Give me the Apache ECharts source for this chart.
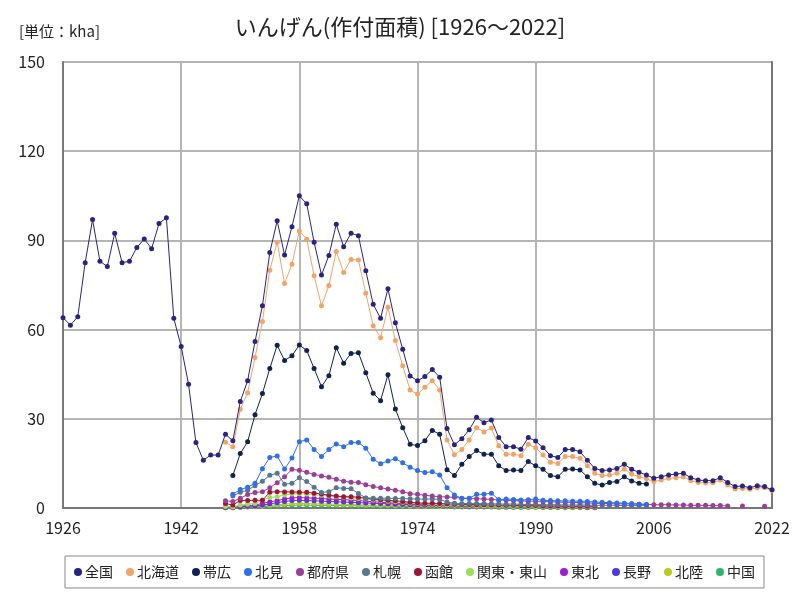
<!DOCTYPE html>
<html>
<head>
<meta charset="utf-8">
<script src="https://cdn.jsdelivr.net/npm/echarts@6/dist/echarts.min.js"></script>
<style>
html,body{margin:0;padding:0;background:#fff;}
#main{width:800px;height:600px;}
</style>
</head>
<body>
<div id="main"></div>
<script>
// 年 (x軸)
var years = [];
for (var y = 1926; y <= 2022; y++) years.push(String(y));

// 全国 1926-2022
var zenkoku = [
  64, 61.5, 64.3, 82.5, 97, 83, 81.2, 92.4, 82.5, 83,
  87.6, 90.5, 87.2, 95.7, 97.6, 63.8, 54.3, 41.6, 22, 16.1,
  17.8, 17.8, 24.8, 22.6, 35.8, 42.8, 56, 68, 85.9, 96.6,
  85.1, 94.6, 105, 102.3, 89.4, 78.4, 84.9, 95.4, 87.9, 92.4,
  91.6, 79.8, 68.5, 63.8, 73.7, 62.3, 53.4, 44.4, 42.8, 44.2,
  46.6, 44, 26.7, 21.3, 23.3, 26.3, 30.5, 28.7, 29.6, 23.7,
  20.6, 20.6, 19.8, 23.7, 22.5, 20.3, 17.6, 17, 19.7, 19.7,
  18.9, 16.1, 13.3, 12.6, 12.8, 13.3, 14.7, 13, 12, 11.1,
  10, 10.5, 11.1, 11.4, 11.7, 10.2, 9.4, 9.2, 9.2, 10.2,
  8.6, 7.2, 7.4, 6.8, 7.5, 7.2, 6.1
];
// 北海道 1948-2022
var hokkaido = [
  22.1, 20.6, 33.2, 38.8, 50.6, 62.7, 80, 89.4, 75.5, 82,
  93.2, 90.4, 78.1, 68, 74.8, 86.3, 79.2, 83.6, 83.4, 72.2,
  61.3, 57.3, 67.5, 56.3, 47.8, 39.7, 38.3, 40.6, 42.8, 39.7,
  22.9, 17.9, 19.7, 22.9, 27, 25.6, 26.9, 20.9, 18.1, 18.1,
  17.6, 21.4, 20.3, 17.8, 15.4, 15, 17.3, 17.3, 16.7, 14.2,
  11.7, 10.9, 11.1, 11.7, 13.1, 11.4, 10.5, 9.8, 8.9, 9.4,
  10, 10.2, 10.5, 9.2, 8.6, 8.5, 8.5, 9.4, 7.7, 6.4,
  6.6, 6.3, 6.8, 6.8, 5.9
];
// 帯広 1949-2005
var obihiro = [
  10.9, 18.3, 22.3, 31.4, 38.5, 46.9, 54.7, 49.6, 51.2, 54.8,
  53, 46.9, 40.8, 44.5, 53.9, 48.7, 52, 52.2, 45.5, 38.6,
  36.1, 44.8, 33.3, 27, 21.4, 21, 22.6, 26.1, 24.8, 12.9,
  10.9, 14.7, 17.3, 19.3, 18.1, 18.1, 14.2, 12.6, 12.8, 12.6,
  15.6, 14.2, 13, 10.9, 10.5, 13, 13.1, 12.8, 10.5, 8.3,
  7.7, 8.6, 8.9, 10.5, 9.1, 8.3, 8.1
];
// 北見 1949-2005
var kitami = [
  4.6, 6.2, 7, 8.3, 13.2, 17, 17.5, 13.1, 16.8, 22.3,
  22.9, 19.7, 17.3, 19.7, 21.5, 20.6, 22, 22, 20.1, 16.4,
  14.9, 15.8, 16.6, 15.2, 13.7, 12.6, 11.9, 12.2, 11.1, 6.8,
  4.4, 3.2, 3.3, 4.6, 4.6, 5, 2.8, 3, 2.9, 2.7,
  2.8, 3, 2.6, 2.5, 2.4, 2.4, 2.3, 2.3, 2.2, 2,
  1.9, 1.8, 1.7, 1.6, 1.5, 1.3, 1.2
];
// 都府県 1948-2022
var tofuken = [
  2.4, 2.2, 3.3, 4.5, 5.2, 5.5, 6.8, 8.5, 10.5, 13,
  12.7, 12, 11.3, 10.8, 10.3, 9.7, 9, 8.7, 8.6, 7.8,
  7.2, 6.8, 6.4, 6, 5.5, 4.8, 4.6, 4.3, 4, 3.8,
  3.7, 3.6, 3.3, 3.2, 3.1, 3, 2.9, 2.7, 2.6, 2.5,
  2.4, 2.3, 2.3, 2.2, 2.1, 2, 1.9, 1.9, 1.8, 1.7,
  1.6, 1.5, 1.5, 1.4, 1.4, 1.3, 1.3, 1.2, 1.1, 1.1,
  1.1, 1, 1, 0.9, 0.9, 0.9, 0.8, 0.8, 0.7, null,
  0.7, null, null, 0.6, null
];
// 札幌 1949-2005
var sapporo = [
  4, 5.3, 6, 7.5, 9, 11, 11.7, 8, 8.3, 10.2,
  8.9, 7, 5.2, 5.5, 6.8, 6.6, 6.5, 4.9, 3.4, 3.3,
  3.3, 3.3, 3.2, 3.2, 3.1, 3, 3, 3, 2.9, 2,
  1.6, 1.5, 1.5, 1.5, 1.5, 1.4, 1.4, 1.3, 1.3, 1.2,
  1.2, 1.2, 1.1, 1.1, 1.1, 1, 1, 1, 1, 0.9,
  0.9, 0.9, 0.9, 0.8, 0.8, 0.8, 0.8
];
// 函館 1948-1998
var hakodate = [
  1.5, 1, 2.5, 2.5, 2.6, 2.6, 5.3, 5.5, 5.4, 5.4,
  5.3, 5.3, 5, 4.7, 4.3, 4, 3.8, 3.8, 3.6, 3.3,
  3, 2.8, 2.6, 2.4, 2.2, 1.9, 1.7, 1.6, 1.6, 1.5,
  1.4, 1.3, 1.2, 1.2, 1.1, 1.1, 1, 1, 0.9, 0.9,
  0.8, 0.8, 0.8, 0.7, 0.7, 0.7, 0.6, 0.6, 0.6, 0.6,
  0.6
];
// 関東・東山 1948-1998
var kanto = [
  0.5, 0.3, 1, 1.3, 1.5, 2.7, 3.5, 3.8, 4.4, 4.7,
  4.8, 4.7, 4.5, 4.3, 4, 3.8, 3.6, 3.4, 3.2, 3,
  2.7, 2.5, 2.3, 2.1, 1.9, 1.7, 1.5, 1.4, 1.3, 1.2,
  1, 0.9, 0.8, 0.8, 0.7, 0.7, 0.6, 0.6, 0.6, 0.5,
  0.5, 0.5, 0.4, 0.4, 0.4, 0.4, 0.3, 0.3, 0.3, 0.3,
  0.3
];
// 東北 1948-1998
var tohoku = [
  0.3, 0.2, 0.6, 0.8, 1, 1.5, 2.1, 2.5, 3, 3.4,
  3.5, 3.4, 3.3, 3.2, 3, 2.9, 2.8, 2.7, 2.5, 2.3,
  2.1, 1.9, 1.8, 1.6, 1.5, 1.3, 1.2, 1.1, 1, 1,
  0.9, 0.8, 0.8, 0.7, 0.7, 0.7, 0.6, 0.6, 0.6, 0.5,
  0.5, 0.5, 0.5, 0.4, 0.4, 0.4, 0.4, 0.4, 0.3, 0.3,
  0.3
];
// 長野 1948-1998
var nagano = [
  0.2, 0.2, 0.4, 0.6, 0.7, 1, 1.4, 1.8, 2.2, 2.5,
  2.6, 2.5, 2.4, 2.3, 2.2, 2.1, 2, 1.9, 1.8, 1.7,
  1.6, 1.5, 1.4, 1.3, 1.2, 1.1, 1, 0.9, 0.9, 0.8,
  0.7, 0.7, 0.6, 0.6, 0.6, 0.5, 0.5, 0.5, 0.5, 0.4,
  0.4, 0.4, 0.4, 0.3, 0.3, 0.3, 0.3, 0.3, 0.3, 0.2,
  0.2
];
// 北陸 1948-1998
var hokuriku = [
  0.1, 0.1, 0.3, 0.4, 0.5, 0.7, 0.9, 1.1, 1.3, 1.5,
  1.5, 1.5, 1.4, 1.4, 1.3, 1.3, 1.2, 1.2, 1.1, 1,
  1, 0.9, 0.9, 0.8, 0.8, 0.7, 0.7, 0.6, 0.6, 0.5,
  0.5, 0.5, 0.4, 0.4, 0.4, 0.4, 0.3, 0.3, 0.3, 0.3,
  0.3, 0.3, 0.2, 0.2, 0.2, 0.2, 0.2, 0.2, 0.2, 0.2,
  0.2
];
// 中国 1948-1998
var chugoku = [
  0.1, 0.1, 0.2, 0.3, 0.4, 0.5, 0.6, 0.7, 0.8, 0.9,
  1, 1, 0.9, 0.9, 0.9, 0.8, 0.8, 0.8, 0.7, 0.7,
  0.7, 0.6, 0.6, 0.6, 0.5, 0.5, 0.5, 0.4, 0.4, 0.4,
  0.4, 0.3, 0.3, 0.3, 0.3, 0.3, 0.3, 0.2, 0.2, 0.2,
  0.2, 0.2, 0.2, 0.2, 0.2, 0.2, 0.1, 0.1, 0.1, 0.1,
  0.1
];

var names = ['全国', '北海道', '帯広', '北見', '都府県', '札幌', '函館', '関東・東山', '東北', '長野', '北陸', '中国'];
var colors = ['#2b2380', '#f2a466', '#0f2250', '#2f6fe8', '#9a3f98', '#557790', '#a01535', '#98e058', '#9a1ed0', '#4d3ad8', '#b7cb1c', '#2cb46c'];
var starts = [1926, 1948, 1949, 1949, 1948, 1949, 1948, 1948, 1948, 1948, 1948, 1948];
var values = [zenkoku, hokkaido, obihiro, kitami, tofuken, sapporo, hakodate, kanto, tohoku, nagano, hokuriku, chugoku];

// 年の並びに合わせる
function fill(start, arr) {
  var out = [];
  for (var i = 0; i < years.length; i++) {
    var k = 1926 + i - start;
    out.push(k >= 0 && k < arr.length ? arr[k] : null);
  }
  return out;
}

var series = [];
for (var s = values.length - 1; s >= 0; s--) {
  series.push({
    name: names[s],
    type: 'line',
    data: fill(starts[s], values[s]),
    symbol: 'circle',
    symbolSize: 5,
    showSymbol: true,
    showAllSymbol: true,
    lineStyle: { width: 1, color: colors[s] },
    itemStyle: { color: colors[s] },
    z: 20 - s
  });
}

var myChart = echarts.init(document.getElementById('main'));
myChart.setOption({
  animation: false,
  backgroundColor: '#fff',
  textStyle: { fontFamily: 'Noto Sans CJK JP' },
  title: [{
    text: 'いんげん(作付面積) [1926～2022]',
    left: 'center',
    top: 11,
    textStyle: { fontSize: 22, fontWeight: 'normal', color: '#222', fontFamily: 'Noto Sans CJK JP' }
  }, {
    text: '[単位：kha]',
    left: 14,
    top: 19,
    textStyle: { fontSize: 15, fontWeight: 'normal', color: '#222', fontFamily: 'Noto Sans CJK JP' }
  }],
  legend: {
    data: names,
    left: 65,
    top: 556,
    width: 700,
    icon: 'circle',
    itemWidth: 8,
    itemHeight: 8,
    itemGap: 13,
    padding: [9, 9],
    borderColor: '#888',
    borderWidth: 1,
    textStyle: { fontSize: 14, color: '#222', padding: [0, 0, 0, -2] }
  },
  grid: {
    left: 63,
    right: 28,
    top: 62,
    bottom: 92
  },
  xAxis: {
    type: 'category',
    data: years,
    boundaryGap: false,
    axisLine: { show: true, lineStyle: { color: '#777', width: 2 } },
    axisTick: { show: false },
    axisLabel: { interval: 15, fontSize: 16, color: '#222', margin: 12 },
    splitLine: { show: true, interval: 15, lineStyle: { color: '#b5b5b5', width: 2 } }
  },
  yAxis: [{
    type: 'value',
    min: 0,
    max: 150,
    interval: 30,
    axisLine: { show: true, lineStyle: { color: '#777', width: 2 } },
    axisTick: { show: false },
    axisLabel: { fontSize: 16, color: '#222', margin: 18 },
    splitLine: { show: true, lineStyle: { color: '#b5b5b5', width: 2 } }
  }, {
    // 右端の枠線
    type: 'value',
    position: 'right',
    min: 0,
    max: 150,
    interval: 30,
    axisLine: { show: true, lineStyle: { color: '#777', width: 2 } },
    axisTick: { show: false },
    axisLabel: { show: false },
    splitLine: { show: false }
  }],
  series: series
});
</script>
</body>
</html>
